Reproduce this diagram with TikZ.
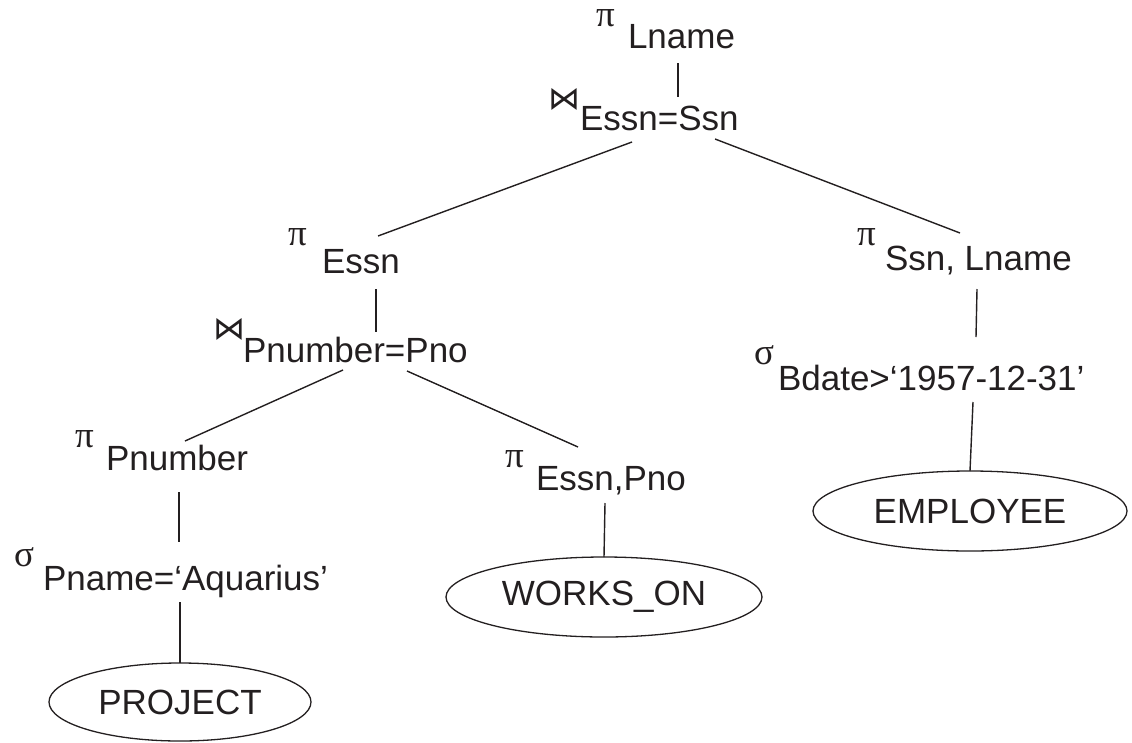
\documentclass[tikz,border=0pt]{standalone}
\usepackage{fontspec}
\setmainfont{Liberation Sans}
\newfontfamily\grk{Liberation Serif}
\newfontfamily\symf{DejaVu Sans}
\usetikzlibrary{shapes.geometric}
\definecolor{ink}{RGB}{35,31,32}
\begin{document}
\begin{tikzpicture}[x=1pt,y=-1pt,
  every node/.style={inner sep=0pt, outer sep=0pt, text=ink},
  lbl/.style={anchor=base west, font=\fontsize{35}{40}\selectfont},
  op/.style={anchor=base west, text height=15pt, text depth=0pt, font=\grk\fontsize{37}{40}\selectfont},
  joinop/.style={anchor=base west, text height=18pt, text depth=0pt, font=\symf\fontsize{32}{36}\selectfont},
  rel/.style={ellipse, draw=ink, line width=1.3pt, font=\fontsize{35}{40}\selectfont},
  conn/.style={draw=ink, line width=1.4pt}]
\useasboundingbox (0,0) rectangle (1132,742);
% labels
\node[op] (o1) at (596,26) {π};
\node[lbl] (t1) at (628,48) {Lname};
\node[joinop] (o2) at (548,109) {⋈};
\node[lbl] (t2) at (580,130) {Essn=Ssn};
\node[op] (o3) at (288,245) {π};
\node[lbl] (t3) at (322,273) {Essn};
\node[op] (o4) at (857,245) {π};
\node[lbl] (t4) at (885,270) {Ssn, Lname};
\node[joinop] (o5) at (213,339) {⋈};
\node[lbl] (t5) at (243,362) {Pnumber=Pno};
\node[op] (o6) at (754,364) {σ};
\node[lbl] (t6) at (778,390) {Bdate>‘1957-12-31’};
\node[op] (o7) at (75,447) {π};
\node[lbl] (t7) at (106,470) {Pnumber};
\node[op] (o8) at (505,467) {π};
\node[lbl] (t8) at (536,490) {Essn,Pno};
\node[op] (o9) at (14,566) {σ};
\node[lbl] (t9) at (43,590) {Pname=‘Aquarius’};
% relations
\node[rel, minimum width=262pt, minimum height=78pt] (project) at (180,702) {PROJECT};
\node[rel, minimum width=316pt, minimum height=80pt] (workson) at (604,597) {WORKS\_ON};
\node[rel, minimum width=314pt, minimum height=80pt] (employee) at (970,511) {EMPLOYEE};
% connector ends
\coordinate (c1a) at (678,63);  \coordinate (c1b) at (678,97);
\coordinate (c2a) at (632,142); \coordinate (c2b) at (378,236);
\coordinate (c3a) at (715,139); \coordinate (c3b) at (960,233);
\coordinate (c4a) at (376,289); \coordinate (c4b) at (376,332);
\coordinate (c5a) at (977,289); \coordinate (c5b) at (976,337);
\coordinate (c6a) at (973,402);
\coordinate (c7a) at (343,370); \coordinate (c7b) at (185,441);
\coordinate (c8a) at (407,371); \coordinate (c8b) at (578,447);
\coordinate (c9a) at (179,492); \coordinate (c9b) at (179,542);
\coordinate (c10a) at (605,503);
\coordinate (c11a) at (180,602);
% connectors
\draw[conn] (c1a) -- (c1b);
\draw[conn] (c2a) -- (c2b);
\draw[conn] (c3a) -- (c3b);
\draw[conn] (c4a) -- (c4b);
\draw[conn] (c5a) -- (c5b);
\draw[conn] (c6a) -- (employee.north);
\draw[conn] (c7a) -- (c7b);
\draw[conn] (c8a) -- (c8b);
\draw[conn] (c9a) -- (c9b);
\draw[conn] (c10a) -- (workson.north);
\draw[conn] (c11a) -- (project.north);
\end{tikzpicture}
\end{document}
